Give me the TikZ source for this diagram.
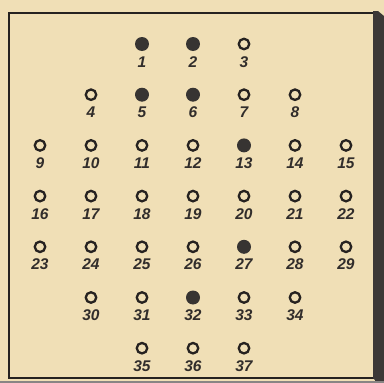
\documentclass[tikz,border=0pt]{standalone}
\usepackage{fontspec}
\setsansfont{Liberation Sans}
\usetikzlibrary{positioning}
\definecolor{papier}{RGB}{240,223,182}
\definecolor{tusz}{RGB}{38,34,32}

\begin{document}
\begin{tikzpicture}[x=1pt,y=-1pt]
					
					% Style
					\tikzset{
						otwor/.style={circle, draw=tusz, line width=2.3pt,
							minimum size=10.5pt, inner sep=0pt},
						pelny/.style={circle, fill=tusz!92, minimum size=14pt, inner sep=0pt},
						numer/.style={font=\sffamily\bfseries\itshape\fontsize{15.5}{15.5}\selectfont,
							text=tusz!95, inner sep=0pt, text height=11pt, text depth=0pt}
					}
					
					% Tlo
					\fill[papier] (0,0) rectangle (384,383);
					\useasboundingbox (0,0) rectangle (384,383);
					
					% Ramka
					\draw[tusz, line width=1.6pt]
					(374,13) -- (9,13) -- (9,378) -- (376,378);
					\fill[tusz!90]
					(373,11) -- (378,11) -- (384,16) -- (384,383) -- (375,383) -- (375,380) -- (373,378) -- cycle;
					\fill[tusz!55] (0,380.5) rectangle (384,383);
					
					% Otwory (wiersz/od/do/pierwszy numer)
					\foreach \r/\a/\b/\s in {1/3/5/1, 2/2/6/4, 3/1/7/9, 4/1/7/16,
						5/1/7/23, 6/2/6/30, 7/3/5/35}
					{
						\foreach \c in {\a,...,\b}
						{
							\pgfmathtruncatemacro{\n}{\s+\c-\a}
							\node[otwor] (h\n) at ({40+51*(\c-1)}, {44+50.7*(\r-1)}) {};
							\node[numer, below=5.5pt of h\n] (n\n) {\n};
						}
					}
					
					% Zajete pola
					\foreach \n in {1,2,5,6,13,27,32}
					\node[pelny] (p\n) at (h\n) {};
					
				\end{tikzpicture}
\end{document}
